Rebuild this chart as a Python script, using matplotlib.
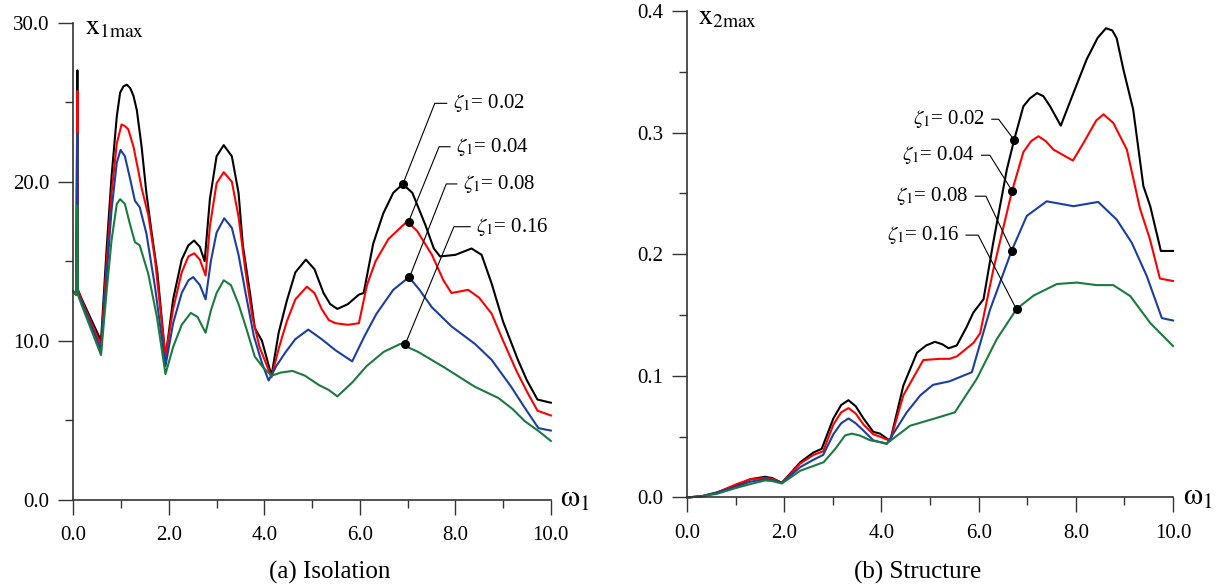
import matplotlib
matplotlib.use('Agg')
import matplotlib.pyplot as plt
from matplotlib.ticker import MultipleLocator, FormatStrFormatter

plt.rcParams['font.family'] = ['Liberation Serif', 'DejaVu Serif']
plt.rcParams['mathtext.fontset'] = 'stix'

# ---- data: (a) Isolation, x1max vs omega1 ----
iso_w_002 = [0.0, 0.06, 0.085, 0.095, 0.18, 0.58, 0.70, 0.80, 0.91, 0.98, 1.05, 1.12, 1.19, 1.26, 1.33,
             1.43, 1.53, 1.64, 1.76, 1.93, 2.09, 2.27, 2.41, 2.53, 2.65, 2.75, 2.86, 3.00, 3.15, 3.32,
             3.46, 3.55, 3.70, 3.80, 3.95, 4.15, 4.30, 4.47, 4.65, 4.87, 5.05, 5.24, 5.38, 5.53, 5.75,
             5.98, 6.08, 6.28, 6.49, 6.70, 6.90, 7.10, 7.37, 7.55, 7.68, 8.00, 8.34, 8.55, 8.76, 9.00,
             9.31, 9.50, 9.72, 10.0]
iso_v_002 = [13.1, 12.9, 27.0, 13.2, 12.6, 10.0, 15.9, 20.3, 24.1, 25.6, 26.0, 26.1, 25.9, 25.4, 24.5,
             22.2, 19.3, 16.8, 14.3, 8.9, 12.6, 15.1, 16.0, 16.3, 15.9, 15.0, 18.9, 21.6, 22.3, 21.6,
             19.3, 16.0, 13.0, 10.8, 10.0, 7.8, 10.5, 12.5, 14.3, 15.1, 14.5, 13.0, 12.3, 12.0, 12.3,
             12.9, 13.0, 16.1, 18.0, 19.3, 19.85, 19.3, 17.3, 15.8, 15.3, 15.4, 15.8, 15.4, 13.6, 11.2,
             8.8, 7.5, 6.3, 6.1]

iso_w_004 = [0.0, 0.06, 0.085, 0.095, 0.18, 0.58, 0.70, 0.80, 0.91, 1.01, 1.08, 1.15, 1.26, 1.36, 1.43,
             1.57, 1.71, 1.93, 2.09, 2.27, 2.41, 2.53, 2.65, 2.77, 2.86, 3.00, 3.15, 3.32, 3.46, 3.60,
             3.75, 3.90, 4.15, 4.30, 4.47, 4.65, 4.89, 5.05, 5.20, 5.35, 5.49, 5.75, 5.98, 6.15, 6.33,
             6.60, 6.99, 7.20, 7.51, 7.75, 7.92, 8.27, 8.50, 8.76, 9.00, 9.28, 9.50, 9.72, 10.0]
iso_v_004 = [13.1, 12.9, 25.7, 13.2, 12.5, 9.7, 15.0, 19.3, 22.4, 23.6, 23.5, 23.3, 22.2, 20.7, 19.6,
             17.9, 15.1, 9.0, 12.0, 14.3, 15.3, 15.5, 15.1, 14.1, 17.2, 19.9, 20.6, 20.0, 17.8, 14.5,
             11.5, 9.6, 7.7, 9.5, 11.2, 12.6, 13.4, 13.0, 12.0, 11.3, 11.1, 11.0, 11.1, 13.5, 15.0,
             16.4, 17.5, 16.9, 15.4, 13.8, 13.0, 13.2, 12.7, 11.7, 10.0, 8.1, 6.8, 5.6, 5.3]

iso_w_008 = [0.0, 0.06, 0.085, 0.095, 0.18, 0.58, 0.70, 0.80, 0.91, 0.99, 1.08, 1.18, 1.29, 1.39, 1.53,
             1.71, 1.93, 2.09, 2.27, 2.41, 2.51, 2.65, 2.77, 2.88, 3.00, 3.16, 3.32, 3.46, 3.62, 3.78,
             3.95, 4.09, 4.25, 4.45, 4.65, 4.92, 5.20, 5.49, 5.84, 6.10, 6.35, 6.70, 7.03, 7.25, 7.51,
             7.92, 8.41, 8.76, 9.17, 9.45, 9.74, 10.0]
iso_v_008 = [13.1, 12.9, 23.0, 13.0, 12.4, 9.4, 14.2, 18.2, 21.2, 22.0, 21.6, 20.3, 18.8, 18.4, 16.75,
             13.4, 8.4, 11.1, 13.0, 13.8, 14.0, 13.5, 12.6, 15.0, 16.8, 17.7, 17.1, 15.4, 12.8, 10.3,
             8.6, 7.5, 8.4, 9.3, 10.1, 10.7, 10.1, 9.4, 8.7, 10.3, 11.7, 13.2, 14.0, 13.2, 12.1,
             10.9, 9.8, 8.8, 7.1, 5.8, 4.5, 4.35]

iso_w_016 = [0.0, 0.06, 0.085, 0.095, 0.18, 0.58, 0.70, 0.80, 0.91, 0.98, 1.08, 1.18, 1.29, 1.39, 1.57,
             1.75, 1.93, 2.09, 2.27, 2.46, 2.60, 2.77, 2.88, 3.00, 3.15, 3.30, 3.46, 3.62, 3.80, 3.98,
             4.15, 4.35, 4.59, 4.85, 5.15, 5.35, 5.53, 5.85, 6.14, 6.50, 6.85, 7.22, 7.78, 8.41, 8.90,
             9.20, 9.45, 9.75, 10.0]
iso_v_016 = [13.1, 12.9, 18.5, 12.9, 12.2, 9.1, 13.2, 16.3, 18.6, 18.9, 18.6, 17.4, 16.2, 16.0, 14.2,
             11.5, 7.9, 9.6, 11.0, 11.75, 11.5, 10.5, 11.9, 13.0, 13.8, 13.5, 12.3, 10.8, 9.0, 8.3,
             7.8, 8.0, 8.1, 7.8, 7.2, 6.9, 6.5, 7.4, 8.4, 9.3, 9.8, 9.3, 8.3, 7.1, 6.4,
             5.7, 4.95, 4.3, 3.7]

# ---- data: (b) Structure, x2max vs omega1 ----
str_w_002 = [0.0, 0.3, 0.61, 1.02, 1.30, 1.60, 1.75, 1.95, 2.33, 2.60, 2.77, 3.01, 3.17, 3.32, 3.47,
             3.63, 3.83, 3.97, 4.18, 4.45, 4.73, 4.92, 5.10, 5.25, 5.38, 5.55, 5.75, 5.89, 6.10, 6.30,
             6.58, 6.73, 6.92, 7.05, 7.20, 7.33, 7.47, 7.69, 7.95, 8.22, 8.45, 8.62, 8.75, 8.84, 8.98,
             9.18, 9.39, 9.53, 9.75, 10.0]
str_v_002 = [0.0, 0.001, 0.004, 0.010, 0.015, 0.017, 0.016, 0.012, 0.029, 0.037, 0.040, 0.065, 0.076,
             0.080, 0.075, 0.065, 0.054, 0.0525, 0.0465, 0.092, 0.119, 0.125, 0.128, 0.126, 0.1227,
             0.125, 0.140, 0.152, 0.163, 0.2096, 0.2697, 0.294, 0.3216, 0.328, 0.3325, 0.330, 0.3216,
             0.3057, 0.3325, 0.360, 0.378, 0.3858, 0.384, 0.3776, 0.3516, 0.319, 0.256, 0.2396,
             0.2027, 0.2027]

str_w_004 = [0.0, 0.3, 0.61, 1.02, 1.30, 1.60, 1.75, 1.95, 2.33, 2.60, 2.80, 3.01, 3.17, 3.32, 3.47,
             3.63, 3.83, 3.97, 4.18, 4.45, 4.86, 5.21, 5.40, 5.55, 5.89, 6.03, 6.30, 6.68, 6.92, 7.08,
             7.23, 7.38, 7.54, 7.94, 8.15, 8.42, 8.57, 8.77, 9.05, 9.32, 9.52, 9.73, 10.0]
str_v_004 = [0.0, 0.001, 0.004, 0.011, 0.015, 0.016, 0.0155, 0.012, 0.028, 0.035, 0.038, 0.060, 0.070,
             0.0735, 0.069, 0.060, 0.052, 0.050, 0.0465, 0.084, 0.113, 0.114, 0.114, 0.116, 0.127,
             0.135, 0.187, 0.251, 0.284, 0.293, 0.297, 0.293, 0.286, 0.277, 0.291, 0.310, 0.315,
             0.308, 0.286, 0.2375, 0.213, 0.180, 0.178]

str_w_008 = [0.0, 0.3, 0.61, 1.02, 1.30, 1.60, 1.75, 1.95, 2.33, 2.60, 2.80, 3.01, 3.17, 3.32, 3.47,
             3.63, 3.83, 4.11, 4.52, 4.80, 5.06, 5.40, 5.86, 6.23, 6.68, 6.99, 7.40, 7.95, 8.46, 8.84,
             9.15, 9.46, 9.77, 10.0]
str_v_008 = [0.0, 0.001, 0.004, 0.009, 0.013, 0.015, 0.0145, 0.012, 0.025, 0.031, 0.035, 0.052, 0.061,
             0.065, 0.061, 0.055, 0.047, 0.044, 0.070, 0.084, 0.0926, 0.0955, 0.103, 0.154, 0.203,
             0.2315, 0.2435, 0.2395, 0.243, 0.2285, 0.2095, 0.182, 0.1475, 0.1455]

str_w_016 = [0.0, 0.3, 0.61, 1.02, 1.30, 1.60, 1.75, 1.95, 2.33, 2.81, 3.05, 3.25, 3.39, 3.55, 3.77,
             4.11, 4.59, 5.10, 5.51, 5.82, 5.96, 6.37, 6.78, 7.13, 7.61, 8.02, 8.43, 8.77, 9.12, 9.53,
             10.0]
str_v_016 = [0.0, 0.001, 0.003, 0.008, 0.011, 0.014, 0.0135, 0.0115, 0.022, 0.029, 0.040, 0.051,
             0.0525, 0.051, 0.047, 0.0445, 0.059, 0.065, 0.070, 0.089, 0.0975, 0.130, 0.155, 0.166,
             0.1755, 0.1767, 0.1746, 0.1746, 0.1656, 0.1435, 0.1245]

zeta_labels = ['0.02', '0.04', '0.08', '0.16']
colors = ['#000000', '#ff0000', '#1a3f9f', '#1b7a3e']

# marker points and label elbows (omega, value)
iso_marks = [(6.90, 19.84), (7.02, 17.48), (7.04, 13.99), (6.95, 9.77)]
iso_elbow = [(7.57, 24.93), (7.66, 22.2), (7.81, 19.86), (7.97, 17.17)]
iso_end = [7.82, 7.89, 8.03, 8.31]

str_marks = [(6.73, 0.294), (6.69, 0.252), (6.69, 0.2025), (6.78, 0.1546)]
str_elbow = [(6.41, 0.311), (6.23, 0.2814), (6.15, 0.2477), (5.99, 0.2157)]
str_end = [6.27, 6.06, 5.93, 5.74]

fig = plt.figure(figsize=(12.2, 5.87), dpi=100)
ax1 = fig.add_axes([0.0601, 0.1487, 0.3914, 0.8126])
ax2 = fig.add_axes([0.5632, 0.1525, 0.3983, 0.8288])

FS = 15


def style(ax, ymax, ymaj, ymin):
    ax.set_xlim(0, 10)
    ax.set_ylim(0, ymax)
    for s in ['top', 'right']:
        ax.spines[s].set_visible(False)
    for s in ['left', 'bottom']:
        ax.spines[s].set_linewidth(1.2)
        ax.spines[s].set_color('#333333')
    ax.xaxis.set_major_locator(MultipleLocator(2))
    ax.xaxis.set_minor_locator(MultipleLocator(1))
    ax.yaxis.set_major_locator(MultipleLocator(ymaj))
    ax.yaxis.set_minor_locator(MultipleLocator(ymin))
    ax.xaxis.set_major_formatter(FormatStrFormatter('%.1f'))
    ax.yaxis.set_major_formatter(FormatStrFormatter('%.1f'))
    ax.tick_params(which='major', direction='out', length=11, width=1.0, color='#333333', labelsize=FS)
    ax.tick_params(which='minor', direction='out', length=5.5, width=1.0, color='#333333')
    ax.tick_params(axis='x', pad=8)
    ax.tick_params(axis='y', pad=6)


style(ax1, 30, 10, 5)
style(ax2, 0.4, 0.1, 0.05)

iso = [(iso_w_002, iso_v_002), (iso_w_004, iso_v_004), (iso_w_008, iso_v_008), (iso_w_016, iso_v_016)]
stru = [(str_w_002, str_v_002), (str_w_004, str_v_004), (str_w_008, str_v_008), (str_w_016, str_v_016)]

for (w, v), c in zip(iso, colors):
    ax1.plot(w, v, color=c, lw=1.5, clip_on=False)
for (w, v), c in zip(stru, colors):
    ax2.plot(w, v, color=c, lw=1.5, clip_on=False)

# labels with leader lines
for lab, m, e, xe in zip(zeta_labels, iso_marks, iso_elbow, iso_end):
    ax1.plot([m[0], e[0], xe], [m[1], e[1], e[1]], color='black', lw=0.8)
    ax1.plot(m[0], m[1], 'o', color='black', ms=5.5, zorder=5)
    ax1.text(xe + 0.13, e[1], r'$\zeta_1$= ' + lab, fontsize=FS, va='center', ha='left')

for lab, m, e, xs in zip(zeta_labels, str_marks, str_elbow, str_end):
    ax2.plot([m[0], e[0], xs], [m[1], e[1], e[1]], color='black', lw=0.8)
    ax2.plot(m[0], m[1], 'o', color='black', ms=5.5, zorder=5)
    ax2.text(xs - 0.14, e[1], r'$\zeta_1$= ' + lab, fontsize=FS, va='center', ha='right')

# axis labels
ax1.text(0.025, 0.99, r'$\mathrm{x}_{\mathrm{1max}}$', transform=ax1.transAxes, fontsize=20,
         va='center', ha='left')
ax2.text(0.023, 0.985, r'$\mathrm{x}_{\mathrm{2max}}$', transform=ax2.transAxes, fontsize=20,
         va='center', ha='left')
ax1.text(1.02, 0.0, r'$\mathrm{\omega}_1$', transform=ax1.transAxes, fontsize=22, va='center', ha='left')
ax2.text(1.02, 0.0, r'$\mathrm{\omega}_1$', transform=ax2.transAxes, fontsize=22, va='center', ha='left')

fig.text(0.27, 0.025, '(a) Isolation', fontsize=18, ha='center', va='center')
fig.text(0.752, 0.025, '(b) Structure', fontsize=18, ha='center', va='center')

fig.savefig('out.png', dpi=100)
